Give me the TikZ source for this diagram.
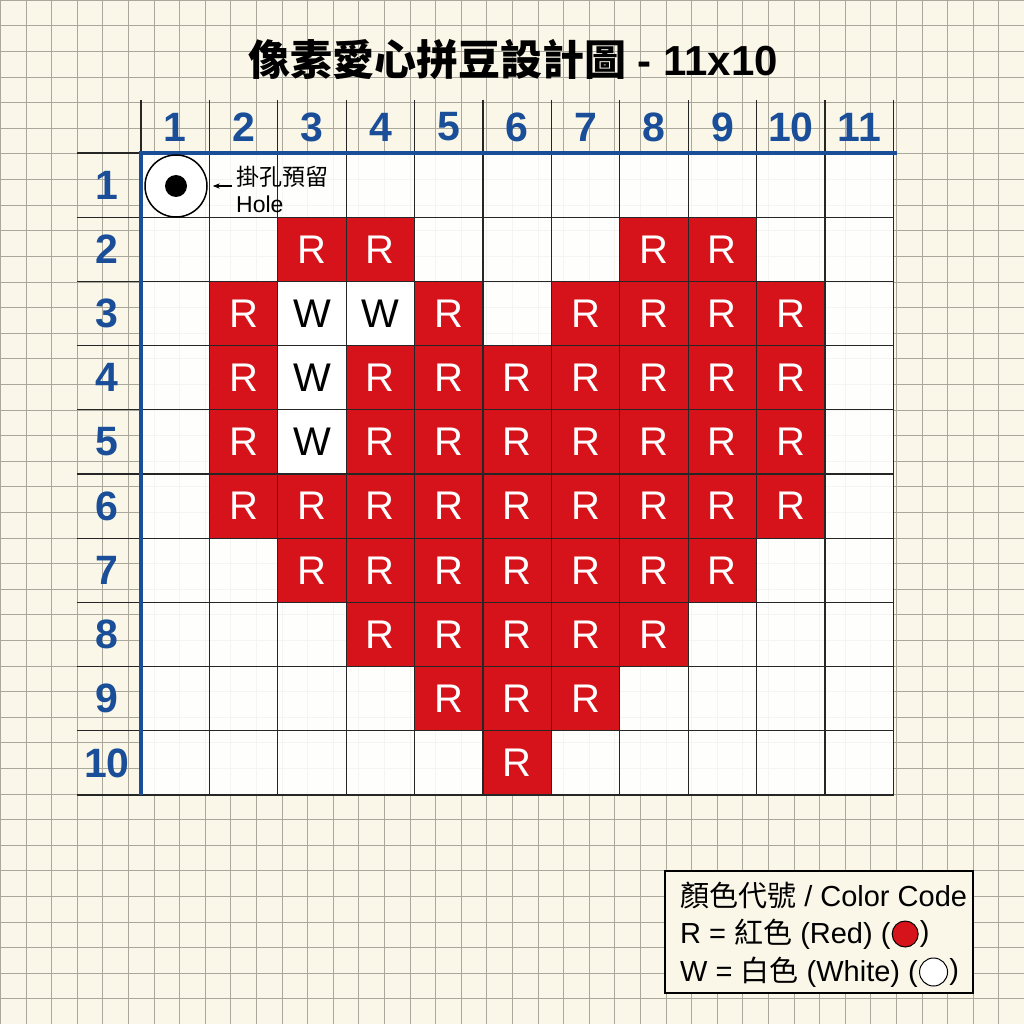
\documentclass[tikz,border=0pt]{standalone}
\usepackage{fontspec}
\setmainfont{Liberation Sans}
\newfontfamily\cjk{Noto Sans CJK TC}
\usepackage{tikz}
\usetikzlibrary{positioning,arrows.meta}

\definecolor{paper}{RGB}{250,247,232}
\definecolor{paperline}{RGB}{170,168,156}
\definecolor{beadred}{RGB}{214,18,26}
\definecolor{hdrblue}{RGB}{26,78,152}

\newcommand{\fsize}[1]{\fontsize{#1}{#1}\selectfont}

\tikzset{
  cell/.style={minimum width=68.4pt, minimum height=64.2pt, inner sep=0pt, font=\fsize{40}},
  redbead/.style={cell, fill=beadred, text=white},
  whitebead/.style={cell, fill=white, text=black},
  hdr/.style={font=\bfseries\fsize{41}, text=hdrblue, inner sep=0pt},
  legendtxt/.style={font=\fsize{29}, inner sep=0pt, anchor=west}
}

\begin{document}
\begin{tikzpicture}[x=1pt, y=-1pt]
        \useasboundingbox (0,0) rectangle (1024,1024);

        % Paper background
        \fill[paper] (0,0) rectangle (1024,1024);
        \foreach \i in {0,...,40} {
            \draw[paperline, line width=1pt] ({25.6*\i+0.4},0) -- ({25.6*\i+0.4},1024);
            \draw[paperline, line width=1pt] (0,{25.6*\i+0.4}) -- (1024,{25.6*\i+0.4});
        }

        % Title
        \node[font=\bfseries\fsize{42}] (title) at (513,60) {{\cjk 像素愛心拼豆設計圖} - 11x10};

        % Board area
        \fill[white, opacity=0.88] (141,153) rectangle (894.4,795);

        % Beads
        \begin{scope}[shift={(141pt,-153pt)}, x=68.4pt, y=-64.2pt]
            \foreach \r/\cs in {2/{3,4,8,9}, 3/{2,5,7,8,9,10}, 4/{2,4,5,6,7,8,9,10},
                                5/{2,4,5,6,7,8,9,10}, 6/{2,3,4,5,6,7,8,9,10},
                                7/{3,4,5,6,7,8,9}, 8/{4,5,6,7,8}, 9/{5,6,7}, 10/{6}} {
                \foreach \c in \cs
                    \node[redbead] (bead-\c-\r) at (\c-0.5,\r-0.5) {R};
            }
            \foreach \c/\r in {3/3, 4/3, 3/4, 3/5}
                \node[whitebead] (bead-\c-\r) at (\c-0.5,\r-0.5) {W};
        \end{scope}

        % Grid lines
        \foreach \c in {0,...,11}
            \draw[black!85, line width=1.2pt] ({141+68.4*\c},100) -- ({141+68.4*\c},795);
        \foreach \r in {0,...,10}
            \draw[black!85, line width=1.2pt] (77,{153+64.2*\r}) -- (894.4,{153+64.2*\r});

        % Headers
        \foreach \c in {1,...,11}
            \node[hdr] (col\c) at ({141+68.4*(\c-0.5)},127) {\c};
        \foreach \r in {1,...,10}
            \node[hdr] (row\r) at (107,{153+64.2*(\r-0.5)}) {\r};

        % Blue axes
        \draw[hdrblue, line width=4pt] (141,153) -- (141,795);
        \draw[hdrblue, line width=4pt] (139,153) -- (897,153);

        % Hanging hole
        \node[circle, draw, line width=1.5pt, fill=white, minimum size=62pt, inner sep=0pt] (hole) at (176,186) {};
        \fill (hole.center) circle (11);
        \node[anchor=west, align=left, inner sep=0pt, font=\fontsize{23}{27}\selectfont] (holetxt) at (236,189)
            {{\cjk 掛孔預留}\\Hole};
        \draw[-{Stealth[length=7pt]}, line width=1.2pt, shorten <=4pt, shorten >=5pt]
            (hole.east -| holetxt.west) -- (hole.east);

        % Legend
        \draw[line width=2.5pt, fill=paper] (665,871) rectangle (973,993);
        \node[legendtxt] (legtitle) at (680,895) {{\cjk 顏色代號} / Color Code};
        \node[legendtxt] (legred) at (680,934) {R = {\cjk 紅色} (Red) (};
        \node[circle, draw, line width=1pt, fill=beadred, minimum size=26pt, inner sep=0pt,
              right=1pt of legred] (redswatch) {};
        \node[legendtxt, right=1pt of redswatch] (redclose) {)};
        \node[legendtxt] (legwhite) at (680,972) {W = {\cjk 白色} (White) (};
        \node[circle, draw, line width=1pt, fill=white, minimum size=28pt, inner sep=0pt,
              right=1pt of legwhite] (whiteswatch) {};
        \node[legendtxt, right=1pt of whiteswatch] (whiteclose) {)};

    \end{tikzpicture}
\end{document}
